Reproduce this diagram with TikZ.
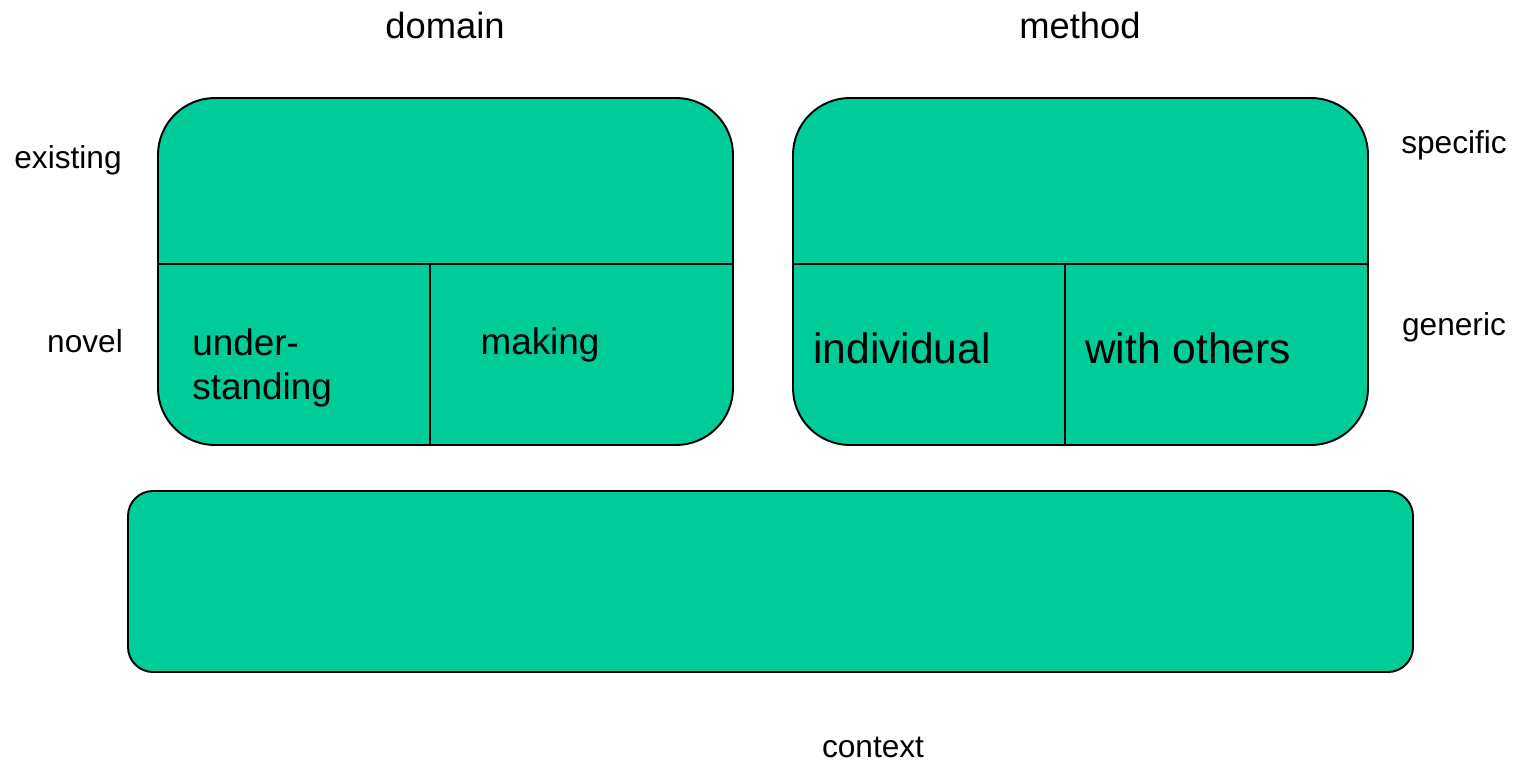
\documentclass[tikz,border=0pt]{standalone}
\usepackage{fontspec}
\setmainfont{Liberation Sans}
\usetikzlibrary{positioning}
\definecolor{boxgreen}{RGB}{0,204,153}
\tikzset{
  x=0.02cm,
  y=-0.02cm,
  panel/.style={draw=black, line width=1.1pt, fill=boxgreen, rounded corners=1.14cm},
  band/.style={draw=black, line width=1.1pt, fill=boxgreen, rounded corners=0.5cm},
  divider/.style={draw=black, line width=1.1pt},
  axis label/.style={font=\fontsize{20.7}{24}\selectfont, inner sep=0pt},
  side label/.style={font=\fontsize{18}{21}\selectfont, inner sep=0pt},
  cell label/.style={font=\fontsize{21}{24.8}\selectfont, inner sep=0pt},
  big cell label/.style={font=\fontsize{24.2}{28}\selectfont, inner sep=0pt},
}

\begin{document}
\begin{tikzpicture}
  \useasboundingbox (0,0) rectangle (1515,761);

  % the two panels and the context band
  \draw[panel] (158,98) rectangle (733,445);
  \draw[panel] (793,98) rectangle (1368,445);
  \draw[band]  (128,491) rectangle (1413,672);

  % dividers
  \draw[divider] (158,264) -- (733,264)
                 (430,264) -- (430,445);
  \draw[divider] (793,264) -- (1368,264)
                 (1065,264) -- (1065,445);

  % labels round the outside
  \node[axis label] (domain)   at (445,25)  {domain};
  \node[axis label] (method)   at (1080,25) {method};
  \node[side label] (existing) at (68,160)  {existing};
  \node[side label] (novel)    at (85,341)  {novel};
  \node[side label] (specific) at (1454,145) {specific};
  \node[side label] (generic)  at (1454,327) {generic};
  \node[side label] (context)  at (873,747) {context};

  % cells
  \node[cell label, anchor=west, align=left] (understanding) at (192,368) {under-\\standing};
  \node[cell label]     (making)     at (540,345)  {making};
  \node[big cell label] (individual) at (902,348)  {individual};
  \node[big cell label] (withothers) at (1188,348) {with others};
\end{tikzpicture}
\end{document}
